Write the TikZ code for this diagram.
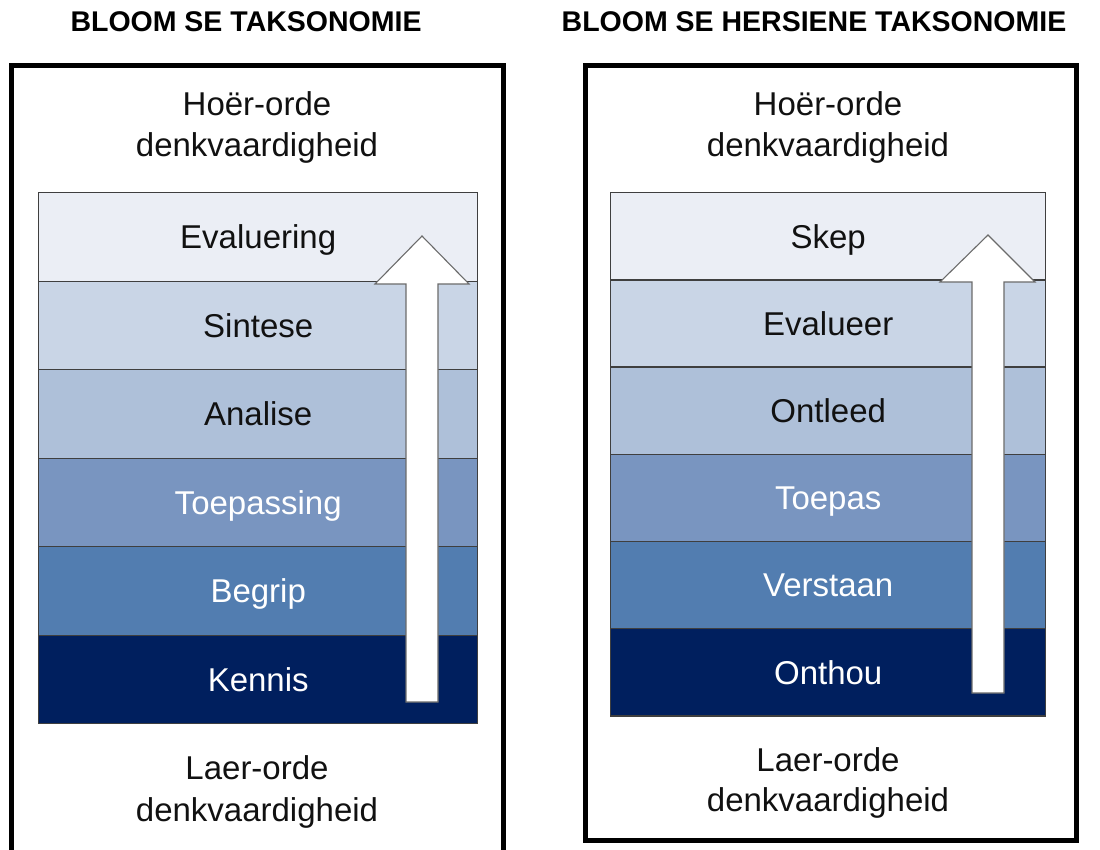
\documentclass[tikz,border=0pt]{standalone}
\usepackage{fontspec}
\setmainfont{Liberation Sans}
\definecolor{tierA}{HTML}{EBEEF5}
\definecolor{tierB}{HTML}{C9D5E6}
\definecolor{tierC}{HTML}{AEC0D9}
\definecolor{tierD}{HTML}{7995C0}
\definecolor{tierE}{HTML}{527DB0}
\definecolor{tierF}{HTML}{001F5E}
\definecolor{tierline}{HTML}{3F3F3F}
\definecolor{arrowline}{HTML}{6B6B6B}
\definecolor{ink}{HTML}{111111}
\begin{document}
\begin{tikzpicture}[x=1pt,y=-1pt,
  frame/.style={draw=black,line width=5pt,line join=miter},
  heading/.style={font=\bfseries\fontsize{28.5}{34}\selectfont,text=black,
    inner sep=0pt,text height=20.4pt,text depth=0pt},
  caption/.style={font=\fontsize{33}{40}\selectfont,text=ink,
    inner sep=0pt,text height=23.6pt,text depth=0pt},
  tier/.style={draw=tierline,line width=1.4pt,anchor=north west,inner sep=0pt,
    font=\fontsize{33}{40}\selectfont,text height=23.6pt,text depth=0pt},
  lefttier/.style={tier,minimum width=439pt,minimum height=88.5pt},
  righttier/.style={tier,minimum width=435pt,minimum height=87.2pt},
  uparrow/.style={draw=arrowline,fill=white,line width=1.1pt,line join=miter}
]
\useasboundingbox (0,0) rectangle (1100,849);

% headings
\node[heading] (titleL) at (246,21) {BLOOM SE TAKSONOMIE};
\node[heading] (titleR) at (814,21) {BLOOM SE HERSIENE TAKSONOMIE};

% outer frames
\draw[frame] (11,865) -- (11,65) -- (503,65) -- (503,865);
\draw[frame] (585,65) rectangle (1076,840);

% left stack
\node[lefttier,fill=tierA,text=ink]   (lA) at (38,192)   {Evaluering};
\node[lefttier,fill=tierB,text=ink]   (lB) at (38,280.5) {Sintese};
\node[lefttier,fill=tierC,text=ink]   (lC) at (38,369)   {Analise};
\node[lefttier,fill=tierD,text=white] (lD) at (38,457.5) {Toepassing};
\node[lefttier,fill=tierE,text=white] (lE) at (38,546)   {Begrip};
\node[lefttier,fill=tierF,text=white] (lF) at (38,634.5) {Kennis};

% right stack
\node[righttier,fill=tierA,text=ink]   (rA) at (610,192)   {Skep};
\node[righttier,fill=tierB,text=ink]   (rB) at (610,279.2) {Evalueer};
\node[righttier,fill=tierC,text=ink]   (rC) at (610,366.4) {Ontleed};
\node[righttier,fill=tierD,text=white] (rD) at (610,453.6) {Toepas};
\node[righttier,fill=tierE,text=white] (rE) at (610,540.8) {Verstaan};
\node[righttier,fill=tierF,text=white] (rF) at (610,628)   {Onthou};

% upward arrows
\draw[uparrow] (406,702) -- (406,284) -- (375,284) -- (422,236)
  -- (469,284) -- (438,284) -- (438,702) -- cycle;
\draw[uparrow] (972,693) -- (972,282) -- (940,282) -- (988,235)
  -- (1035,282) -- (1004,282) -- (1004,693) -- cycle;

% top and bottom captions
\node[caption] (hiL1) at (257,104) {Hoër-orde};
\node[caption] (hiL2) at (257,145) {denkvaardigheid};
\node[caption] (loL1) at (257,768) {Laer-orde};
\node[caption] (loL2) at (257,810) {denkvaardigheid};
\node[caption] (hiR1) at (828,104) {Hoër-orde};
\node[caption] (hiR2) at (828,145) {denkvaardigheid};
\node[caption] (loR1) at (828,759.5) {Laer-orde};
\node[caption] (loR2) at (828,799.5) {denkvaardigheid};
\end{tikzpicture}
\end{document}
